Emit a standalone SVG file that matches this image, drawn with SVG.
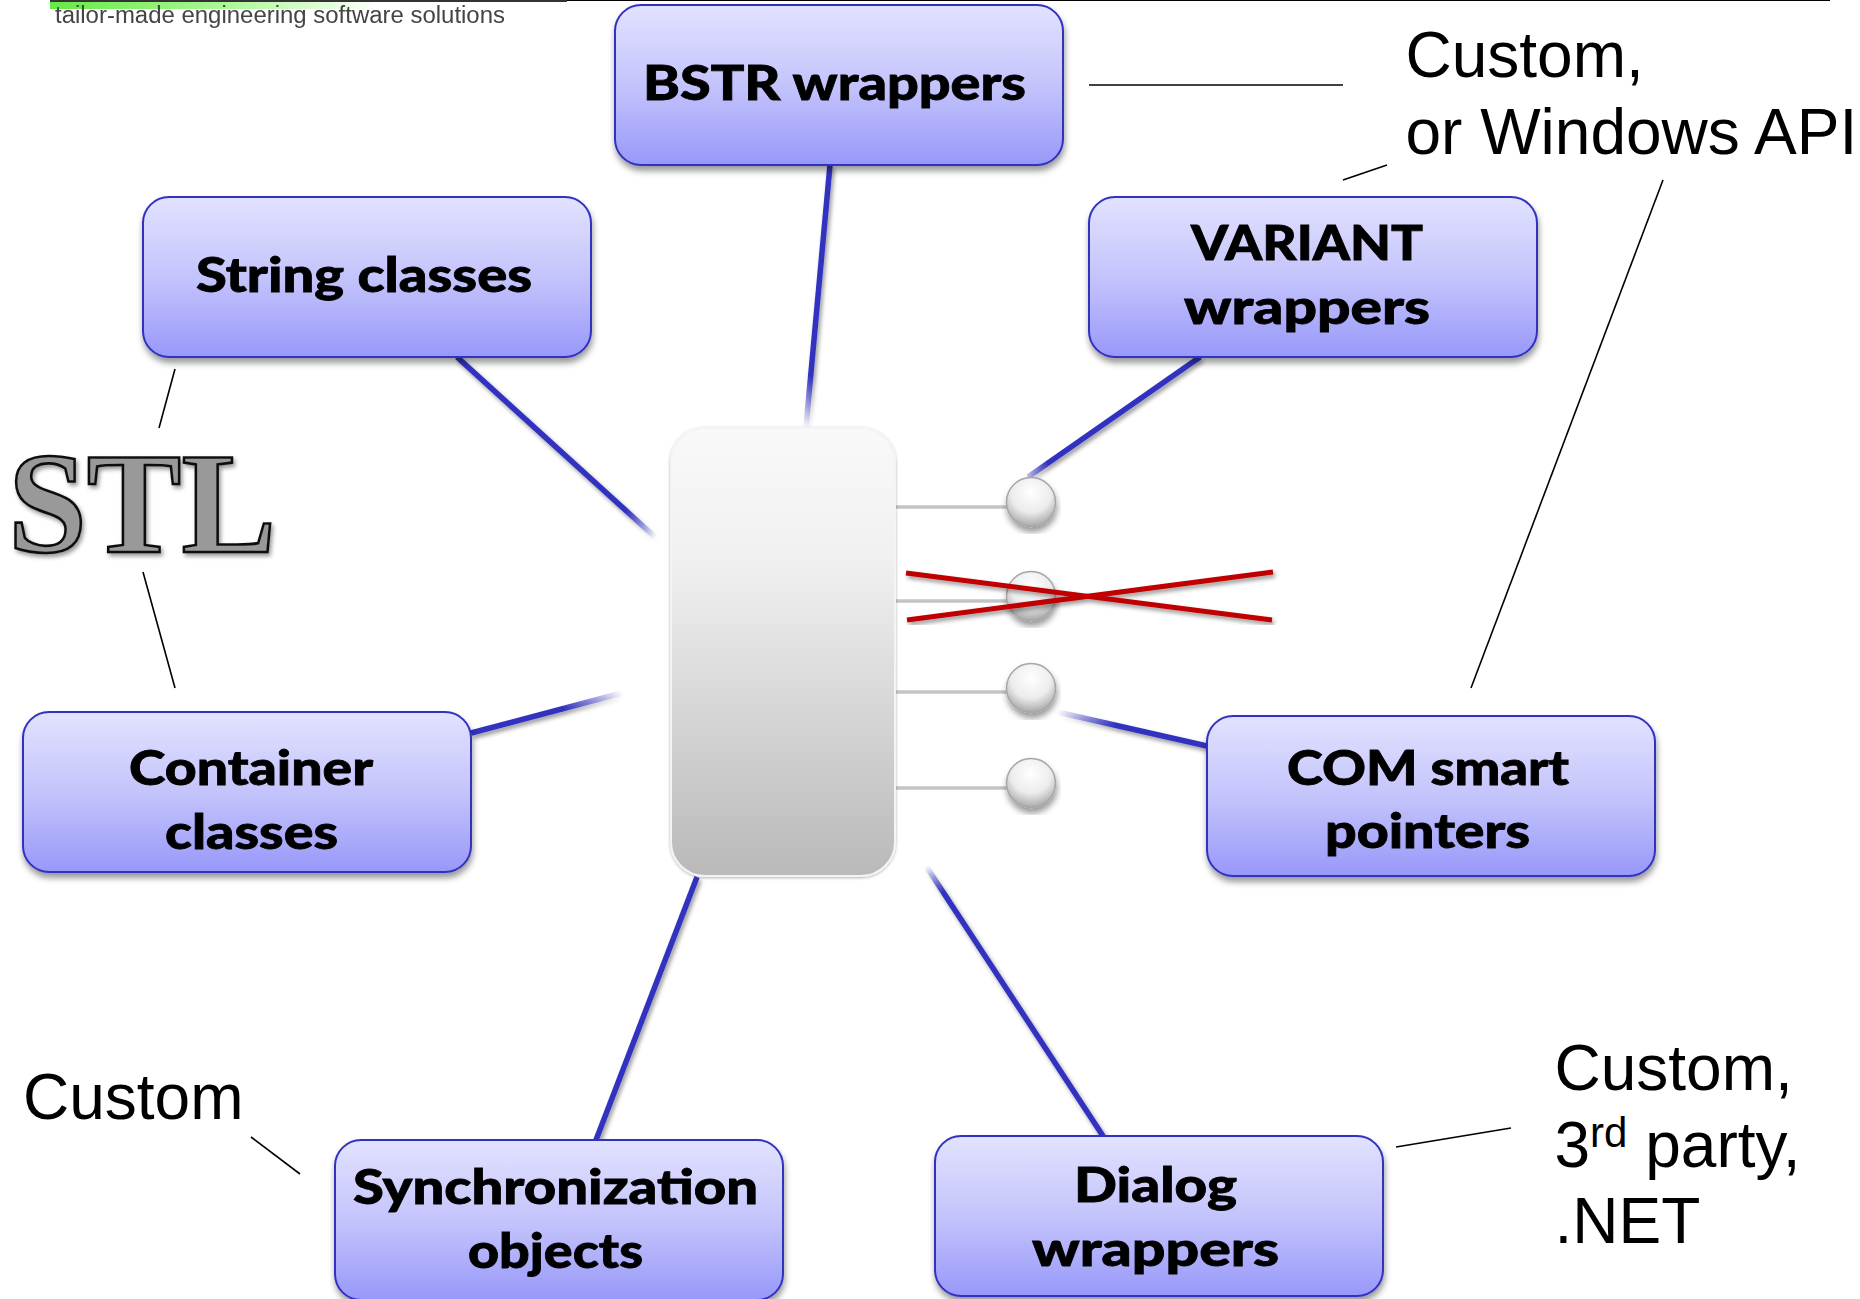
<svg xmlns="http://www.w3.org/2000/svg" width="1860" height="1299" viewBox="0 0 1860 1299">
<defs>
<linearGradient id="nodeFill" x1="0" y1="0" x2="0" y2="1"><stop offset="0" stop-color="#e2e2ff"/><stop offset="0.5" stop-color="#c4c4fc"/><stop offset="1" stop-color="#9898fa"/></linearGradient>
<linearGradient id="coreFill" x1="0" y1="0" x2="0" y2="1"><stop offset="0" stop-color="#f9f9f9"/><stop offset="0.3" stop-color="#f0f0f0"/><stop offset="1" stop-color="#b9b9b9"/></linearGradient>
<radialGradient id="ballFill" cx="0.5" cy="0.3" r="0.75"><stop offset="0" stop-color="#ffffff"/><stop offset="0.55" stop-color="#ececec"/><stop offset="1" stop-color="#9c9c9c"/></radialGradient>
<linearGradient id="green" x1="0" y1="0" x2="1" y2="0"><stop offset="0" stop-color="#66ea44"/><stop offset="0.55" stop-color="#aef89a"/><stop offset="1" stop-color="#ffffff"/></linearGradient>
<linearGradient id="fBstr" gradientUnits="userSpaceOnUse" x1="830" y1="165" x2="806" y2="427"><stop offset="0.8" stop-color="#3030c0"/><stop offset="1" stop-color="#3030c0" stop-opacity="0"/></linearGradient>
<linearGradient id="fStr" gradientUnits="userSpaceOnUse" x1="457" y1="357" x2="655" y2="537"><stop offset="0.85" stop-color="#3030c0"/><stop offset="1" stop-color="#3030c0" stop-opacity="0"/></linearGradient>
<linearGradient id="fVar" gradientUnits="userSpaceOnUse" x1="1200" y1="357" x2="1028" y2="477"><stop offset="0.88" stop-color="#3030c0"/><stop offset="1" stop-color="#3030c0" stop-opacity="0.3"/></linearGradient>
<linearGradient id="fCon" gradientUnits="userSpaceOnUse" x1="471" y1="733" x2="622" y2="693"><stop offset="0.6" stop-color="#3030c0"/><stop offset="1" stop-color="#3030c0" stop-opacity="0"/></linearGradient>
<linearGradient id="fCom" gradientUnits="userSpaceOnUse" x1="1207" y1="746" x2="1057" y2="712"><stop offset="0.6" stop-color="#3030c0"/><stop offset="1" stop-color="#3030c0" stop-opacity="0"/></linearGradient>
<linearGradient id="fDia" gradientUnits="userSpaceOnUse" x1="1103" y1="1136" x2="926" y2="866"><stop offset="0.9" stop-color="#3030c0"/><stop offset="1" stop-color="#3030c0" stop-opacity="0"/></linearGradient>
<filter id="sh" x="-10%" y="-10%" width="120%" height="125%"><feDropShadow dx="1" dy="5" stdDeviation="3" flood-color="#000" flood-opacity="0.4"/></filter>
<filter id="shCore" x="-5%" y="-5%" width="110%" height="110%"><feDropShadow dx="0" dy="1" stdDeviation="1.5" flood-color="#000" flood-opacity="0.3"/></filter>
<filter id="shText" x="-5%" y="-5%" width="115%" height="115%"><feDropShadow dx="2" dy="3" stdDeviation="2" flood-color="#000" flood-opacity="0.4"/></filter>
<filter id="soft" x="-2%" y="-20%" width="104%" height="140%"><feGaussianBlur stdDeviation="0.5"/></filter>
</defs>
<style>
.node{fill:url(#nodeFill);stroke:#3030c0;stroke-width:2}
.lab{font-family:"Lato","Noto Sans",sans-serif;font-weight:900;font-size:48px;fill:#000;stroke:#000;stroke-width:.8}
.note{font-family:"Liberation Sans",Arial,sans-serif;font-size:64px;fill:#000}
.thin{stroke:#000;stroke-width:1.6;fill:none}
.blue{stroke-width:5.5;fill:none}
.stub{stroke:#c4c4c4;stroke-width:3.5;fill:none}
.ball{fill:url(#ballFill);stroke:#a6a6a6;stroke-width:1.5}
.red{stroke:#c00000;stroke-width:5;fill:none}
</style>
<rect width="1860" height="1299" fill="#fff"/>
<g id="header">
<rect x="50" y="0" width="330" height="9" fill="url(#green)"/>
<path d="M50 1H567" stroke="#333" stroke-width="2" fill="none"/>
<path d="M567 .5H1830" stroke="#000" stroke-width="1" fill="none"/>
<text x="55" y="23" font-family="Liberation Sans, Arial, sans-serif" font-size="23" fill="#444" filter="url(#soft)" textLength="450" lengthAdjust="spacingAndGlyphs">tailor-made engineering software solutions</text>
</g>
<g id="connectors">
<g filter="url(#shText)">
<path class="blue" stroke="url(#fBstr)" d="M830 165L806 427"/>
<path class="blue" stroke="url(#fStr)" d="M457 357L655 537"/>
<path class="blue" stroke="url(#fVar)" d="M1200 357L1028 477"/>
<path class="blue" stroke="url(#fCon)" d="M471 733L622 693"/>
<path class="blue" stroke="url(#fCom)" d="M1207 746L1057 712"/>
<path class="blue" stroke="#3030c0" d="M697 877L596 1140"/>
<path class="blue" stroke="url(#fDia)" d="M1103 1136L926 866"/>
</g>
<path class="stub" d="M888 507H1012"/>
<path class="stub" d="M888 601H1012"/>
<path class="stub" d="M888 692H1012"/>
<path class="stub" d="M888 788H1012"/>
<path class="thin" d="M1089 85H1343"/>
<path class="thin" d="M1343 180L1387 165"/>
<path class="thin" d="M1663 180L1471 688"/>
<path class="thin" d="M175 369L159 428"/>
<path class="thin" d="M143 572L175 688"/>
<path class="thin" d="M251 1137L300 1174"/>
<path class="thin" d="M1396 1147L1511 1128"/>
</g>
<g id="core"><rect x="671" y="428" width="224" height="448" rx="34" fill="url(#coreFill)" stroke="#f4f4f4" stroke-width="2" filter="url(#shCore)"/></g>
<g id="socket1"><circle class="ball" cx="1031" cy="502" r="24.5" filter="url(#sh)"/></g>
<g id="socket2"><circle class="ball" cx="1031" cy="596" r="24.5" filter="url(#sh)"/></g>
<g id="socket3"><circle class="ball" cx="1031" cy="688" r="24.5" filter="url(#sh)"/></g>
<g id="socket4"><circle class="ball" cx="1031" cy="783" r="24.5" filter="url(#sh)"/></g>
<g id="bstr"><rect class="node" x="615" y="5" width="448" height="160" rx="26" filter="url(#sh)"/><text class="lab" x="643" y="100" textLength="383" lengthAdjust="spacingAndGlyphs">BSTR wrappers</text></g>
<g id="string"><rect class="node" x="143" y="197" width="448" height="160" rx="26" filter="url(#sh)"/><text class="lab" x="196" y="292" textLength="336" lengthAdjust="spacingAndGlyphs">String classes</text></g>
<g id="variant"><rect class="node" x="1089" y="197" width="448" height="160" rx="26" filter="url(#sh)"/><text class="lab" x="1191" y="260" textLength="232" lengthAdjust="spacingAndGlyphs">VARIANT</text><text class="lab" x="1184" y="324" textLength="246" lengthAdjust="spacingAndGlyphs">wrappers</text></g>
<g id="container"><rect class="node" x="23" y="712" width="448" height="160" rx="26" filter="url(#sh)"/><text class="lab" x="129" y="785" textLength="244" lengthAdjust="spacingAndGlyphs">Container</text><text class="lab" x="165" y="849" textLength="173" lengthAdjust="spacingAndGlyphs">classes</text></g>
<g id="com"><rect class="node" x="1207" y="716" width="448" height="160" rx="26" filter="url(#sh)"/><text class="lab" x="1287" y="785" textLength="282" lengthAdjust="spacingAndGlyphs">COM smart</text><text class="lab" x="1325" y="848" textLength="205" lengthAdjust="spacingAndGlyphs">pointers</text></g>
<g id="sync"><rect class="node" x="335" y="1140" width="448" height="160" rx="26" filter="url(#sh)"/><text class="lab" x="353" y="1204" textLength="405" lengthAdjust="spacingAndGlyphs">Synchronization</text><text class="lab" x="468" y="1268" textLength="175" lengthAdjust="spacingAndGlyphs">objects</text></g>
<g id="dialog"><rect class="node" x="935" y="1136" width="448" height="160" rx="26" filter="url(#sh)"/><text class="lab" x="1074" y="1202" textLength="163" lengthAdjust="spacingAndGlyphs">Dialog</text><text class="lab" x="1032" y="1266" textLength="247" lengthAdjust="spacingAndGlyphs">wrappers</text></g>
<g id="cross" filter="url(#shText)">
<path class="red" d="M906 573L1272 620"/>
<path class="red" d="M907 620L1273 572"/>
</g>
<g id="stl"><text x="8" y="552" font-family="Liberation Serif, Times New Roman, serif" font-weight="700" font-size="144" fill="#999" stroke="#111" stroke-width="2.6" filter="url(#shText)" textLength="268" lengthAdjust="spacingAndGlyphs">STL</text></g>
<g id="notes">
<text class="note" x="1405.5" y="77">Custom,</text>
<text class="note" x="1405.5" y="154">or Windows API</text>
<text class="note" x="23" y="1119">Custom</text>
<text class="note" x="1554.5" y="1090">Custom,</text>
<text class="note" x="1554.5" y="1167">3<tspan font-size="42" dy="-20">rd</tspan><tspan dy="20"> party,</tspan></text>
<text class="note" x="1554.5" y="1243">.NET</text>
</g>
</svg>
